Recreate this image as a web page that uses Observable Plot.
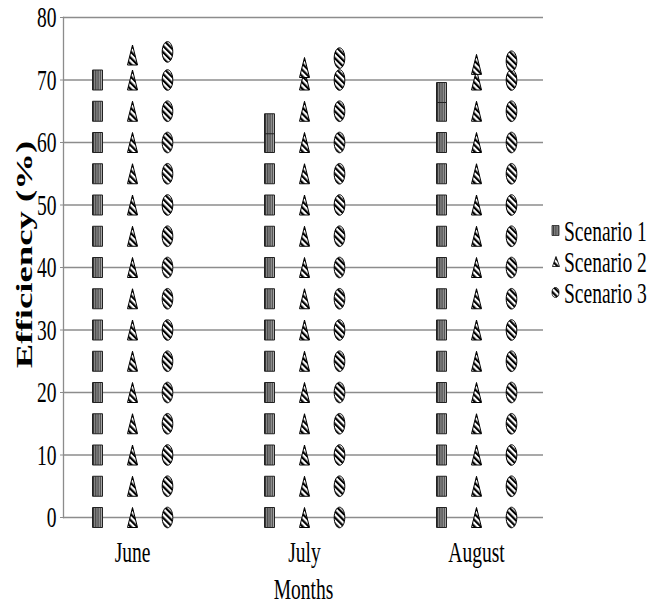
<!DOCTYPE html>
<html><head><meta charset="utf-8">
<script src="https://cdn.jsdelivr.net/npm/d3@7"></script>
<script src="https://cdn.jsdelivr.net/npm/@observablehq/plot@0.6"></script>
<style>
body{margin:0;background:#fff;}
#wrap{position:relative;width:648px;height:605px;}
#legend{position:absolute;left:551px;top:215px;font-family:"Liberation Serif","Times New Roman",serif;font-size:30px;color:#000;}
.row{display:flex;align-items:center;height:31px;line-height:31px;white-space:nowrap;}
.row svg{flex:none;margin-right:4px;}
.row span{display:inline-block;transform:scaleX(0.65);transform-origin:left center;}
</style></head><body><div id="wrap"><div id="legend"></div></div>
<script>
const months = ["June", "July", "August"];
const scenarios = ["Scenario 1", "Scenario 2", "Scenario 3"];
const scenario1 = [70, 63, 68];
const scenario2 = [74, 72, 72.5];
const scenario3 = [74.5, 73.5, 73];
const yTicks = [0, 10, 20, 30, 40, 50, 60, 70, 80];
const unit = 5; // one pictogram per 5 %
const xLabel = "Months";
const yLabel = "Efficiency (%)";

function icons(values) {
  const out = [];
  months.forEach((m, i) => {
    const v = values[i];
    for (let k = 0; k * unit <= v; k++) out.push({month: m, y: k * unit});
    if (v % unit !== 0) out.push({month: m, y: v});
  });
  return out;
}

const rectSym = {draw(c) { c.moveTo(-5, -10); c.lineTo(5, -10); c.lineTo(5, 10); c.lineTo(-5, 10); c.closePath(); }};
const triSym = {draw(c) { c.moveTo(0, -10); c.lineTo(5, 10); c.lineTo(-5, 10); c.closePath(); }};
const ellSym = {draw(c) {
  const rx = 5.3, ry = 10.3, k = 0.5523;
  c.moveTo(0, -ry);
  c.bezierCurveTo(k * rx, -ry, rx, -k * ry, rx, 0);
  c.bezierCurveTo(rx, k * ry, k * rx, ry, 0, ry);
  c.bezierCurveTo(-k * rx, ry, -rx, k * ry, -rx, 0);
  c.bezierCurveTo(-rx, -k * ry, -k * rx, -ry, 0, -ry);
  c.closePath();
}};

const font = "'Liberation Serif','Times New Roman',serif";

const chart = Plot.plot({
  width: 648,
  height: 605,
  marginLeft: 63,
  marginRight: 105,
  marginTop: 17,
  marginBottom: 88,
  style: {fontFamily: font, background: "#fff", color: "#000"},
  x: {type: "point", domain: months, range: [132, 476], padding: 0},
  y: {domain: [0, 80]},
  marks: [
    Plot.ruleY(yTicks, {stroke: "#8c8c8c", strokeWidth: 1.3}),
    Plot.frame({anchor: "left", stroke: "#8c8c8c", strokeWidth: 1.3}),
    Plot.axisY(yTicks, {tickSize: 3, tickPadding: 4, fontSize: 30, stroke: "#8c8c8c", label: null}),
    Plot.axisX({tickSize: 0, tickPadding: 23, fontSize: 30, label: xLabel, labelAnchor: "center", labelArrow: "none", labelOffset: 81}),
    Plot.text([yLabel], {frameAnchor: "left", textAnchor: "middle", rotate: -90, dx: -39, dy: -13, fontWeight: "bold", fontSize: 23.5, fill: "#000"}),
    Plot.dot(icons(scenario1), {x: "month", y: "y", dx: -35, symbol: rectSym, fill: "url(#pat1)", stroke: "#222", strokeWidth: 1}),
    Plot.dot(icons(scenario2), {x: "month", y: "y", dx: 0, symbol: triSym, fill: "url(#pat2)", stroke: "#000", strokeWidth: 1}),
    Plot.dot(icons(scenario3), {x: "month", y: "y", dx: 35, symbol: ellSym, fill: "url(#pat3)", stroke: "#000", strokeWidth: 1})
  ]
});

const ns = "http://www.w3.org/2000/svg";
const defs = document.createElementNS(ns, "defs");
defs.innerHTML = `
<pattern id="pat1" patternUnits="userSpaceOnUse" width="2.2" height="10"><rect width="2.2" height="10" fill="#a8a8a8"/><rect width="1.1" height="10" fill="#333"/></pattern>
<pattern id="pat2" patternUnits="userSpaceOnUse" width="4.4" height="4.4" patternTransform="rotate(-45)"><rect width="4.4" height="4.4" fill="#fff"/><rect width="2.2" height="4.4" fill="#000"/></pattern>
<pattern id="pat3" patternUnits="userSpaceOnUse" width="4.4" height="4.4" patternTransform="rotate(-45)"><rect width="4.4" height="4.4" fill="#fff"/><rect width="2.2" height="4.4" fill="#000"/></pattern>`;
chart.insertBefore(defs, chart.firstChild);

document.getElementById("wrap").prepend(chart);

// condensed lettering as in the reference (horizontal squeeze)
chart.querySelectorAll("text").forEach(t => {
  const L = t.getComputedTextLength();
  if (!L) return;
  const target = t.textContent === yLabel ? L / 0.64 : L * 0.65;
  t.setAttribute("textLength", target);
  t.setAttribute("lengthAdjust", "spacingAndGlyphs");
});

// legend
const legendSyms = [
  {fill: "url(#pat1)", stroke: "#222", d: "M1,1.5H8V11.5H1Z"},
  {fill: "url(#pat2)", stroke: "#000", d: "M5,1.5L8.5,11.5H1.5Z"},
  {fill: "url(#pat3)", stroke: "#000", d: "M4.5,1.5C7,1.5 8,4 8,6.5C8,9 7,11.5 4.5,11.5C2,11.5 1,9 1,6.5C1,4 2,1.5 4.5,1.5Z"}
];
const legend = document.getElementById("legend");
scenarios.forEach((s, i) => {
  const row = document.createElement("div");
  row.className = "row";
  row.innerHTML = `<svg width="9" height="13"><path d="${legendSyms[i].d}" fill="${legendSyms[i].fill}" stroke="${legendSyms[i].stroke}" stroke-width="0.8"/></svg><span>${s}</span>`;
  legend.appendChild(row);
});
</script></body></html>
